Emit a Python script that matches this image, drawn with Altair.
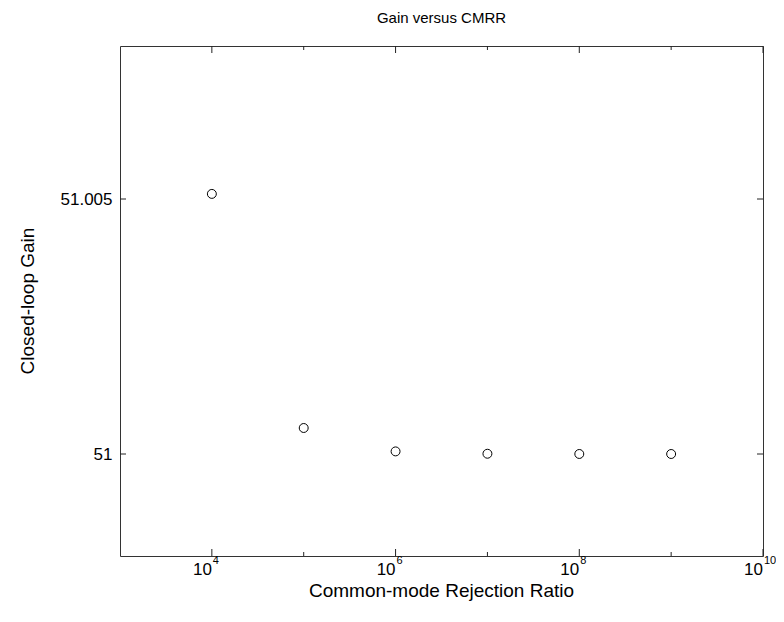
import altair as alt
import pandas as pd

# data
cmrr = [1e4, 1e5, 1e6, 1e7, 1e8, 1e9]
gain = [51.0051, 51.00051, 51.000051, 51.0000051, 51.00000051, 51.000000051]
x_major = [1e4, 1e6, 1e8, 1e10]
x_minor = [1e5, 1e7, 1e9]
x_exp = ["4", "6", "8", "10"]
y_ticks = [51.0, 51.005]

W, H = 643, 510
FONT = "Liberation Sans"

df = pd.DataFrame({"cmrr": cmrr, "gain": gain})
df_major = pd.DataFrame({"v": x_major, "e": x_exp, "t": ["10"] * len(x_major)})
df_minor = pd.DataFrame({"v": x_minor})
df_y = pd.DataFrame({"v": y_ticks})

xs = alt.Scale(type="log", domain=[1e3, 1e10], nice=False)
ys = alt.Scale(domain=[50.998, 51.008], nice=False, zero=False)
yaxis = alt.Axis(values=y_ticks, format=".3~f", tickSize=0, domain=False, grid=False,
                 labelFontSize=17, labelFont=FONT, labelColor="black", labelPadding=8, title=None)

points = alt.Chart(df).mark_point(size=80, filled=False, stroke="black", strokeWidth=1, opacity=1).encode(
    x=alt.X("cmrr:Q", scale=xs, axis=None),
    y=alt.Y("gain:Q", scale=ys, axis=yaxis),
)

tick_col = "#222222"
xmaj_b = alt.Chart(df_major).mark_rule(color=tick_col).encode(
    x=alt.X("v:Q", scale=xs, axis=None), y=alt.value(H), y2=alt.value(H - 7))
xmaj_t = alt.Chart(df_major).mark_rule(color=tick_col).encode(
    x=alt.X("v:Q", scale=xs, axis=None), y=alt.value(0), y2=alt.value(7))
xmin_b = alt.Chart(df_minor).mark_rule(color=tick_col).encode(
    x=alt.X("v:Q", scale=xs, axis=None), y=alt.value(H), y2=alt.value(H - 4))
xmin_t = alt.Chart(df_minor).mark_rule(color=tick_col).encode(
    x=alt.X("v:Q", scale=xs, axis=None), y=alt.value(0), y2=alt.value(4))
y_l = alt.Chart(df_y).mark_rule(color=tick_col).encode(
    y=alt.Y("v:Q", scale=ys, axis=yaxis), x=alt.value(0), x2=alt.value(6))
y_r = alt.Chart(df_y).mark_rule(color=tick_col).encode(
    y=alt.Y("v:Q", scale=ys, axis=yaxis), x=alt.value(W), x2=alt.value(W - 6))

lab10 = alt.Chart(df_major).mark_text(font=FONT, fontSize=17, align="right", baseline="middle", color="black").encode(
    x=alt.X("v:Q", scale=xs, axis=None), y=alt.value(H + 14), text="t:N")
labexp = alt.Chart(df_major).mark_text(font=FONT, fontSize=11, align="left", baseline="middle", color="black", dx=1).encode(
    x=alt.X("v:Q", scale=xs, axis=None), y=alt.value(H + 5), text="e:N")

title = alt.Chart(df.head(1)).mark_text(font=FONT, fontSize=15, align="center", baseline="middle", color="black",
                                         text="Gain versus CMRR").encode(x=alt.value(W / 2), y=alt.value(-28))
xtitle = alt.Chart(df.head(1)).mark_text(font=FONT, fontSize=19, align="center", baseline="middle", color="black",
                                          text="Common-mode Rejection Ratio").encode(x=alt.value(W / 2), y=alt.value(H + 35))
ytitle = alt.Chart(df.head(1)).mark_text(font=FONT, fontSize=19, align="center", baseline="middle", color="black",
                                          angle=270, text="Closed-loop Gain").encode(x=alt.value(-92), y=alt.value(H / 2))

chart = alt.layer(points, xmaj_b, xmaj_t, xmin_b, xmin_t, y_l, y_r, lab10, labexp, title, xtitle, ytitle).properties(
    width=W, height=H, autosize=alt.AutoSizeParams(type="none"),
    padding={"left": 112, "top": 38, "right": 13, "bottom": 58},
    background="white",
).configure_view(stroke="#333333", strokeWidth=1)

chart.save("out.html", embed_options={"renderer": "svg", "actions": False})
